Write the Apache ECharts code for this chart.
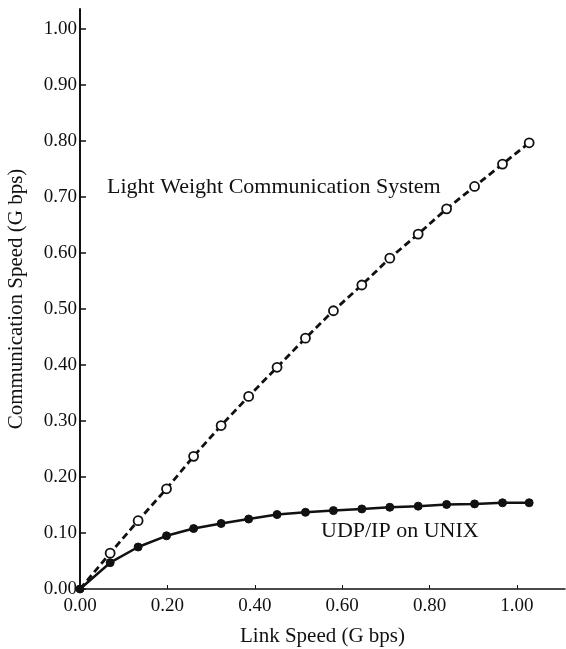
<!DOCTYPE html>
<html>
<head>
<meta charset="utf-8">
<script src="https://cdn.jsdelivr.net/npm/echarts@6/dist/echarts.min.js"></script>
<style>
	html, body { margin: 0; background: #fff; }
	#chart { width: 566px; height: 649px; }
</style>
</head>
<body>
<div id="chart"></div>
<script>
	// values
	const linkSpeed = [0, 0.069, 0.133, 0.198, 0.260, 0.323, 0.386, 0.451, 0.516, 0.580, 0.645, 0.709, 0.774, 0.839, 0.903, 0.967, 1.028];
	const lwcsSpeed = [0, 0.064, 0.122, 0.179, 0.237, 0.292, 0.344, 0.396, 0.448, 0.497, 0.543, 0.591, 0.634, 0.679, 0.719, 0.759, 0.797];
	const udpSpeed = [0, 0.047, 0.075, 0.095, 0.108, 0.117, 0.125, 0.133, 0.137, 0.140, 0.143, 0.146, 0.148, 0.151, 0.152, 0.154, 0.154];
	const xTicks = [0, 0.2, 0.4, 0.6, 0.8, 1.0];
	const yTicks = [0, 0.1, 0.2, 0.3, 0.4, 0.5, 0.6, 0.7, 0.8, 0.9, 1.0];

	const serif = 'Liberation Serif';
	const ink = '#111';

	const lwcsData = linkSpeed.map((x, i) => i === 0
		? { value: [x, lwcsSpeed[i]], symbol: 'none' }
		: [x, lwcsSpeed[i]]);
	const udpData = linkSpeed.map((x, i) => [x, udpSpeed[i]]);

	const chart = echarts.init(document.getElementById('chart'));

	const option = {
		backgroundColor: '#fff',
		animation: false,
		grid: {
			left: 80,
			right: 1,
			top: 9,
			bottom: 60,
			containLabel: false,
			outerBoundsMode: 'none'
		},
		xAxis: {
			type: 'value',
			min: 0,
			max: 1.11,
			name: 'Link Speed (G bps)',
			nameLocation: 'middle',
			nameGap: 37,
			nameTextStyle: { fontFamily: serif, fontSize: 21, color: ink },
			axisLine: { lineStyle: { color: ink, width: 1.5 } },
			axisTick: { inside: true, length: 4, customValues: xTicks, lineStyle: { color: ink } },
			axisLabel: {
				customValues: xTicks,
				formatter: v => v.toFixed(2),
				fontFamily: serif, fontSize: 19, color: ink, margin: 8
			},
			splitLine: { show: false }
		},
		yAxis: {
			type: 'value',
			min: 0,
			max: 1.036,
			name: 'Communication Speed (G bps)',
			nameLocation: 'middle',
			nameGap: 53,
			nameTextStyle: { fontFamily: serif, fontSize: 21, color: ink },
			axisLine: { show: true, lineStyle: { color: ink, width: 2 } },
			axisTick: { show: true, inside: true, length: 6, customValues: yTicks, lineStyle: { color: ink, width: 1.5 } },
			axisLabel: {
				customValues: yTicks,
				formatter: v => v.toFixed(2),
				fontFamily: serif, fontSize: 19, color: ink, margin: 3
			},
			splitLine: { show: false }
		},
		series: [{
			name: 'Light Weight Communication System',
			type: 'line',
			data: lwcsData,
			symbol: 'circle',
			symbolSize: 9,
			itemStyle: { color: '#fff', borderColor: ink, borderWidth: 1.8 },
			lineStyle: { color: ink, width: 2.8, type: [7, 4] },
			z: 2
		}, {
			name: 'UDP/IP on UNIX',
			type: 'line',
			data: udpData,
			symbol: 'circle',
			symbolSize: 8,
			itemStyle: { color: ink, borderColor: ink, borderWidth: 1 },
			lineStyle: { color: ink, width: 2.5 },
			z: 3
		}],
		graphic: [{
			type: 'text',
			left: 107,
			top: 176,
			style: { text: 'Light Weight Communication System', fontFamily: serif, fontSize: 22, fill: ink }
		}, {
			type: 'text',
			left: 321,
			top: 520,
			style: { text: 'UDP/IP on UNIX', fontFamily: serif, fontSize: 22, fill: ink }
		}]
	};

	chart.setOption(option);
</script>
</body>
</html>
